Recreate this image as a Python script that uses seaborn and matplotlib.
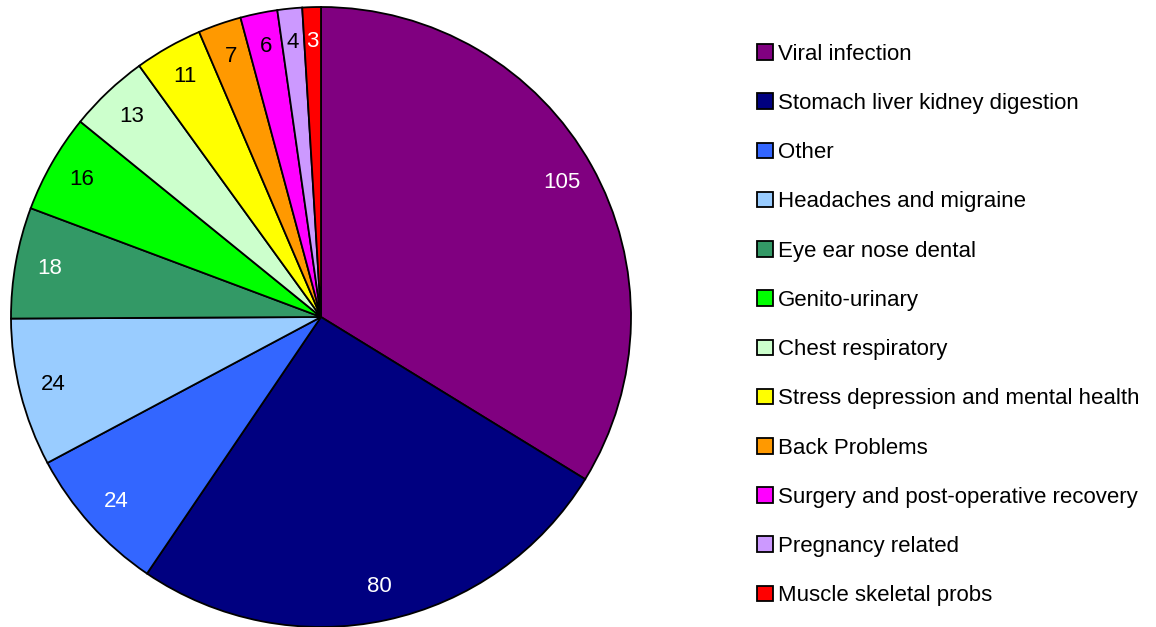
import matplotlib
matplotlib.use('Agg')
import matplotlib.pyplot as plt
import seaborn as sns

# dados do grafico
categorias = ['Viral infection', 'Stomach liver kidney digestion', 'Other',
              'Headaches and migraine', 'Eye ear nose dental', 'Genito-urinary',
              'Chest respiratory', 'Stress depression and mental health',
              'Back Problems', 'Surgery and post-operative recovery',
              'Pregnancy related', 'Muscle skeletal probs']
valores = [105, 80, 24, 24, 18, 16, 13, 11, 7, 6, 4, 3]
cores = ['#800080', '#000080', '#3366FF', '#99CCFF', '#339966', '#00FF00',
         '#CCFFCC', '#FFFF00', '#FF9900', '#FF00FF', '#CC99FF', '#FF0000']
cor_texto = ['white', 'white', 'white', 'black', 'white', 'black',
             'black', 'black', 'black', 'black', 'black', 'white']

sns.set_style('white')
plt.rcParams['font.family'] = ['Liberation Sans', 'DejaVu Sans']
plt.rcParams['text.color'] = 'black'

total = sum(valores)

fig = plt.figure(figsize=(11.56, 6.27), dpi=100)
ax = fig.add_axes([11 / 1156, 0.0, 620 / 1156, 620 / 627])

wedges, textos, autotextos = ax.pie(
    valores, colors=cores, startangle=90, counterclock=False,
    autopct=lambda p: f'{round(p * total / 100)}', pctdistance=0.89,
    wedgeprops={'edgecolor': 'black', 'linewidth': 1.3, 'clip_on': False},
    textprops={'fontsize': 16})
for t, c in zip(autotextos, cor_texto):
    t.set_color(c)
ax.set_aspect('equal')
ax.set_xlim(-1, 1)
ax.set_ylim(-1, 1)
ax.axis('off')

fig.legend(wedges, categorias, loc='center left',
           bbox_to_anchor=(746 / 1156, 1 - 325 / 627),
           frameon=False, fontsize=16, handlelength=0.7, handleheight=0.7,
           handletextpad=0.25, labelspacing=1.27, borderpad=0)

fig.savefig('out.png', dpi=100)
